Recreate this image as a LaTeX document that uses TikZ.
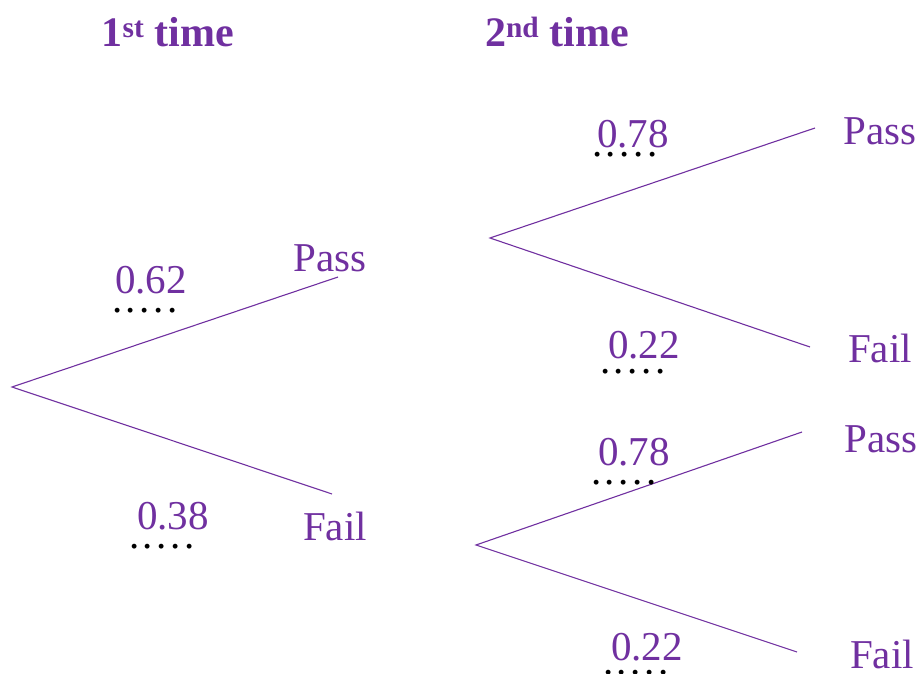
\documentclass[tikz,border=0pt]{standalone}
\usepackage{fontspec}
\setmainfont{Liberation Serif}
\definecolor{treepurple}{RGB}{112,48,160}
\newcommand{\dotrow}{.\kern3.6pt.\kern3.6pt.\kern3.6pt.\kern3.6pt.}

\begin{document}
\begin{tikzpicture}[x=1pt, y=-1pt,
		branch/.style={treepurple, line width=1.1pt},
		lbl/.style={text=treepurple, font=\fontsize{41}{45}\selectfont, anchor=base, inner sep=0pt},
		hdr/.style={lbl, font=\bfseries\fontsize{42}{46}\selectfont},
		blank/.style={font=\fontsize{41}{45}\selectfont, anchor=base, inner sep=0pt}]
		\useasboundingbox (0,0) rectangle (922,674);
		% headings
		\node[hdr] (first) at (168,47) {1\textsuperscript{st} time};
		\node[hdr] (second) at (557,47) {2\textsuperscript{nd} time};
		% roots and branch ends
		\coordinate (r) at (12,387);
		\coordinate (p) at (338,277);
		\coordinate (f) at (332,494);
		\coordinate (rp) at (490,238);
		\coordinate (pp) at (815,128);
		\coordinate (pf) at (810,347);
		\coordinate (rf) at (476,545);
		\coordinate (fp) at (802,432);
		\coordinate (ff) at (797,652);
		\draw[branch] (p) -- (r) -- (f);
		\draw[branch] (pp) -- (rp) -- (pf);
		\draw[branch] (fp) -- (rf) -- (ff);
		% outcomes
		\node[lbl] (pass) at (330,272) {Pass};
		\node[lbl] (fail) at (335,540) {Fail};
		\node[lbl] (passpass) at (880,145) {Pass};
		\node[lbl] (passfail) at (880,362) {Fail};
		\node[lbl] (failpass) at (881,452) {Pass};
		\node[lbl] (failfail) at (882,668) {Fail};
		% probabilities
		\node[lbl] (p1) at (151,293) {0.62};
		\node[lbl] (q1) at (173,529) {0.38};
		\node[lbl] (p2) at (633,148) {0.78};
		\node[lbl] (q2) at (644,358) {0.22};
		\node[lbl] (p3) at (634,465) {0.78};
		\node[lbl] (q3) at (647,660) {0.22};
		% blanks to fill in
		\node[blank] at (145,312) {\dotrow};
		\node[blank] at (162,548) {\dotrow};
		\node[blank] at (625,157) {\dotrow};
		\node[blank] at (633,373) {\dotrow};
		\node[blank] at (624,484) {\dotrow};
		\node[blank] at (636,674) {\dotrow};
	\end{tikzpicture}
\end{document}
